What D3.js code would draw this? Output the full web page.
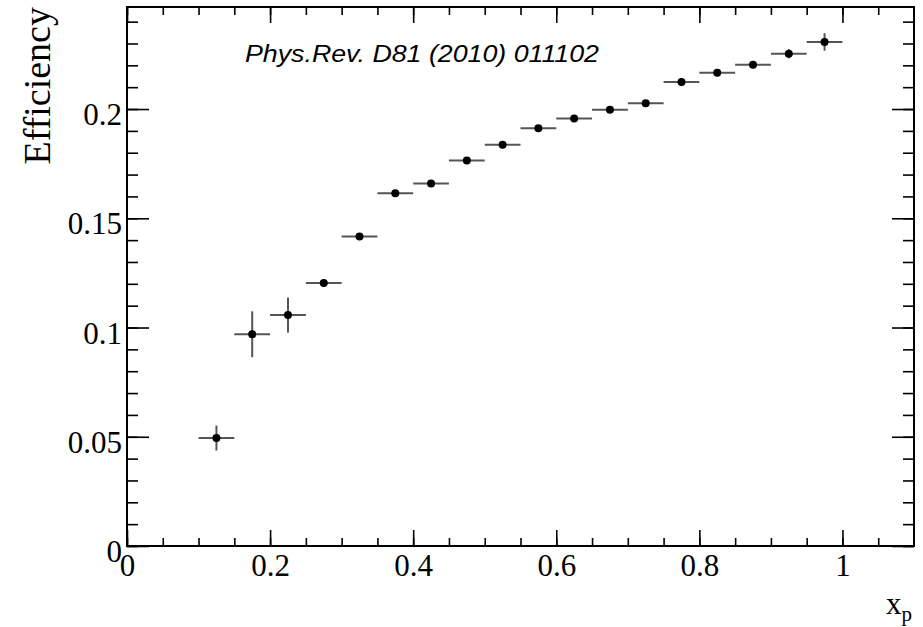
<!DOCTYPE html>
<html>
<head>
<meta charset="utf-8">
<script src="https://cdn.jsdelivr.net/npm/d3@7"></script>
<style>
  body { margin: 0; background: #fff; }
  svg { display: block; }
</style>
</head>
<body>
<div id="chart"></div>
<script>
// bin centres (x_p), efficiency and its error
var xp = [0.125, 0.175, 0.225, 0.275, 0.325, 0.375, 0.425, 0.475, 0.525,
          0.575, 0.625, 0.675, 0.725, 0.775, 0.825, 0.875, 0.925, 0.975];
var eff = [0.0494, 0.0969, 0.1057, 0.1204, 0.1417, 0.1615, 0.1659, 0.1764, 0.1836,
           0.1912, 0.1957, 0.1997, 0.2026, 0.2124, 0.2166, 0.2203, 0.2253, 0.2307];
var effErr = [0.0057, 0.0105, 0.0080, 0.0018, 0.0012, 0.0012, 0.0012, 0.0012, 0.0012,
              0.0012, 0.0012, 0.0012, 0.0012, 0.0014, 0.0014, 0.0015, 0.0021, 0.0040];
var binHalf = 0.025;

var xMajor = [0, 0.2, 0.4, 0.6, 0.8, 1];
var yMajor = [0, 0.05, 0.1, 0.15, 0.2];

var W = 923, H = 627;
var padL = 127, padR = 914, padT = 7, padB = 546;

var svg = d3.select('#chart').append('svg')
  .attr('width', W)
  .attr('height', H);

var x = d3.scaleLinear().domain([0, 1.1]).range([padL, padR]);
var y = d3.scaleLinear().domain([0, 0.2467]).range([padB, padT]);

var xMinor = d3.range(0, 22).map(function(i) { return i * 0.05; }).filter(function(v) { return v <= 1.06; });
var yMinor = d3.range(0, 25).map(function(i) { return i * 0.01; });

var fmt = function(d) { return String(+d.toFixed(2)); };
var serif = 'Liberation Serif, Times New Roman, serif';

function styleAxis(g) {
  g.select('.domain').remove();
  g.selectAll('line').attr('stroke', '#000').attr('stroke-width', 1.6);
  g.selectAll('text').attr('font-family', serif).attr('font-size', 31).attr('fill', '#000');
}

// bottom axis
svg.append('g').attr('transform', 'translate(0,' + padB + ')')
  .call(d3.axisBottom(x).tickValues(xMinor).tickSize(-8).tickFormat(''))
  .call(styleAxis);
svg.append('g').attr('transform', 'translate(0,' + padB + ')')
  .call(d3.axisBottom(x).tickValues(xMajor).tickSize(-16).tickPadding(8).tickFormat(fmt))
  .call(styleAxis);

// top axis (mirrored ticks)
svg.append('g').attr('transform', 'translate(0,' + padT + ')')
  .call(d3.axisTop(x).tickValues(xMinor).tickSize(-8).tickFormat(''))
  .call(styleAxis);
svg.append('g').attr('transform', 'translate(0,' + padT + ')')
  .call(d3.axisTop(x).tickValues(xMajor).tickSize(-16).tickFormat(''))
  .call(styleAxis);

// left axis
svg.append('g').attr('transform', 'translate(' + padL + ',0)')
  .call(d3.axisLeft(y).tickValues(yMinor).tickSize(-11).tickFormat(''))
  .call(styleAxis);
var yAxis = svg.append('g').attr('transform', 'translate(' + padL + ',0)')
  .call(d3.axisLeft(y).tickValues(yMajor).tickSize(-22).tickPadding(5).tickFormat(fmt))
  .call(styleAxis);
yAxis.selectAll('text').attr('dy', '0.5em');

// right axis
svg.append('g').attr('transform', 'translate(' + padR + ',0)')
  .call(d3.axisRight(y).tickValues(yMinor).tickSize(-11).tickFormat(''))
  .call(styleAxis);
svg.append('g').attr('transform', 'translate(' + padR + ',0)')
  .call(d3.axisRight(y).tickValues(yMajor).tickSize(-22).tickFormat(''))
  .call(styleAxis);

// frame
svg.append('rect')
  .attr('x', padL)
  .attr('y', padT)
  .attr('width', padR - padL)
  .attr('height', padB - padT)
  .attr('fill', 'none')
  .attr('stroke', '#000')
  .attr('stroke-width', 2);

// data: error bars and markers
var pts = xp.map(function(v, i) { return { x: v, y: eff[i], e: effErr[i] }; });
var pg = svg.append('g');

pg.selectAll('line.h').data(pts).enter().append('line')
  .attr('class', 'h')
  .attr('x1', function(d) { return x(d.x - binHalf); })
  .attr('x2', function(d) { return x(d.x + binHalf); })
  .attr('y1', function(d) { return y(d.y); })
  .attr('y2', function(d) { return y(d.y); })
  .attr('stroke', '#555')
  .attr('stroke-width', 2);

pg.selectAll('line.v').data(pts).enter().append('line')
  .attr('class', 'v')
  .attr('x1', function(d) { return x(d.x); })
  .attr('x2', function(d) { return x(d.x); })
  .attr('y1', function(d) { return y(d.y - d.e); })
  .attr('y2', function(d) { return y(d.y + d.e); })
  .attr('stroke', '#555')
  .attr('stroke-width', 2);

pg.selectAll('circle').data(pts).enter().append('circle')
  .attr('cx', function(d) { return x(d.x); })
  .attr('cy', function(d) { return y(d.y); })
  .attr('r', 4)
  .attr('fill', '#000');

// axis titles
svg.append('text')
  .attr('transform', 'translate(50,' + padT + ') rotate(-90)')
  .attr('text-anchor', 'end')
  .attr('font-family', serif)
  .attr('font-size', 38)
  .text('Efficiency');

var xt = svg.append('text')
  .attr('x', padR - 2)
  .attr('y', 614)
  .attr('text-anchor', 'end')
  .attr('font-family', serif)
  .attr('font-size', 31);
xt.append('tspan').text('x');
xt.append('tspan').attr('font-size', 21).attr('dy', 7).text('p');

// reference annotation
svg.append('text')
  .attr('x', 245)
  .attr('y', 62)
  .attr('font-family', 'Liberation Sans, Arial, sans-serif')
  .attr('font-style', 'italic')
  .attr('font-size', 24)
  .attr('textLength', 354)
  .attr('lengthAdjust', 'spacingAndGlyphs')
  .text('Phys.Rev. D81 (2010) 011102');
</script>
</body>
</html>
